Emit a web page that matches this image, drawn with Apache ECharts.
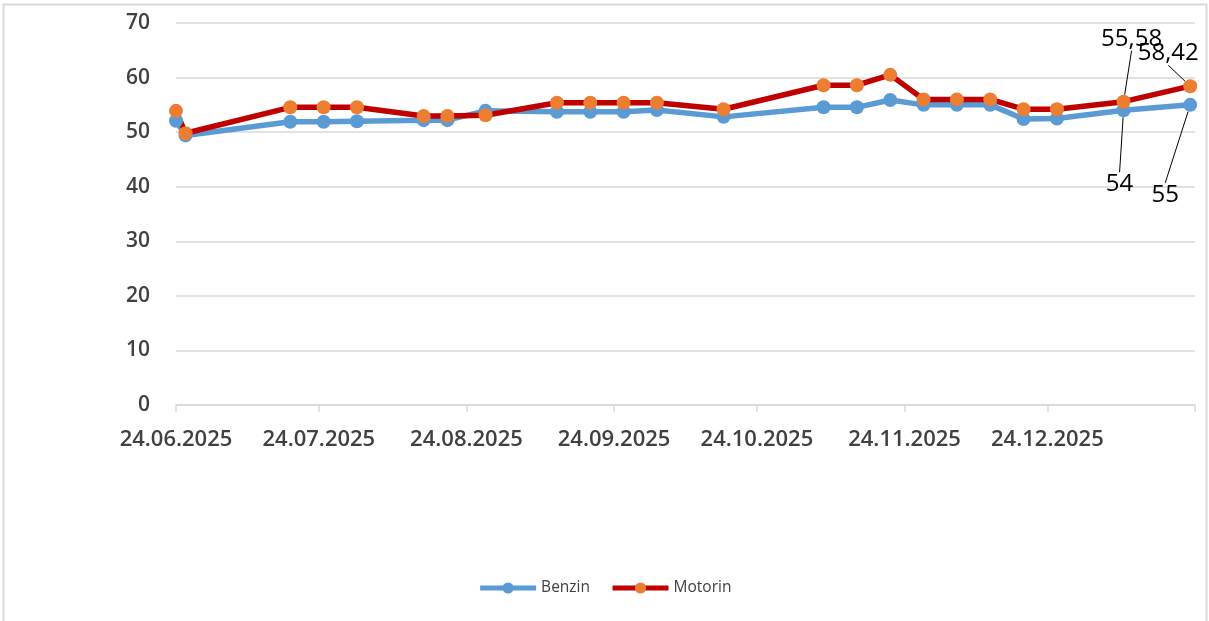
<!DOCTYPE html>
<html>
<head>
<meta charset="utf-8">
<script src="https://cdn.jsdelivr.net/npm/echarts@6/dist/echarts.min.js"></script>
<style>
html,body{margin:0;padding:0;background:#fff;}
#chart{width:1209px;height:621px;}
</style>
</head>
<body>
<div id="chart"></div>
<script>
var dates = ['2025-06-24','2025-06-26','2025-07-18','2025-07-25','2025-08-01','2025-08-15','2025-08-20','2025-08-28','2025-09-12','2025-09-19','2025-09-26','2025-10-03','2025-10-17','2025-11-07','2025-11-14','2025-11-21','2025-11-28','2025-12-05','2025-12-12','2025-12-19','2025-12-26','2026-01-09','2026-01-23'];
var benzin = [52.1, 49.4, 51.9, 51.9, 52.0, 52.2, 52.2, 53.9, 53.75, 53.75, 53.75, 54.05, 52.8, 54.55, 54.55, 55.9, 55.0, 55.0, 55.0, 52.4, 52.5, 54, 55];
var motorin = [53.9, 49.8, 54.55, 54.55, 54.55, 52.95, 52.95, 53.1, 55.4, 55.4, 55.4, 55.4, 54.2, 58.6, 58.6, 60.5, 56.0, 56.0, 56.0, 54.2, 54.2, 55.58, 58.42];
var tickDates = ['2025-06-24','2025-07-24','2025-08-24','2025-09-24','2025-10-24','2025-11-24','2025-12-24','2026-01-24'];
var labelDates = ['2025-06-24','2025-07-24','2025-08-24','2025-09-24','2025-10-24','2025-11-24','2025-12-24'];
var axisMin = '2025-06-24', axisMax = '2026-01-24';
var yTicks = [0, 10, 20, 30, 40, 50, 60, 70];

function ts(s){ return new Date(s + 'T00:00:00').getTime(); }
function fmtDate(v){
  var d = new Date(v);
  var dd = ('0' + d.getDate()).slice(-2), mm = ('0' + (d.getMonth()+1)).slice(-2);
  return dd + '.' + mm + '.' + d.getFullYear();
}
function fmtNum(v){ return String(v).replace('.', ','); }

var labeled = {21: true, 22: true};
function mkData(vals){
  return vals.map(function(v, i){
    var item = { value: [ts(dates[i]), v] };
    if (labeled[i]) item.label = { show: true };
    return item;
  });
}

var FONT = "'Open Sans', 'Noto Sans', sans-serif";
var chart = echarts.init(document.getElementById('chart'), null, {renderer: 'canvas'});
var option = {
  animation: false,
  backgroundColor: '#fff',
  textStyle: { fontFamily: FONT },
  graphic: [{
    type: 'rect', silent: true, z: -1,
    shape: { x: 3.5, y: 4.5, width: 1203, height: 700 },
    style: { fill: 'none', stroke: '#d9d9d9', lineWidth: 2 }
  }],
  grid: { left: 176, right: 14, top: 23, bottom: 216, containLabel: false },
  legend: {
    bottom: 20, left: 'center',
    itemWidth: 56, itemHeight: 14, itemGap: 20,
    lineStyle: { width: 5 },
    textStyle: { fontSize: 15.5, color: '#404040', fontFamily: FONT },
    data: ['Benzin', 'Motorin']
  },
  xAxis: {
    type: 'value',
    min: ts(axisMin), max: ts(axisMax),
    axisLine: { show: true, lineStyle: { color: '#d9d9d9', width: 1.5 } },
    axisTick: { show: true, length: 7, lineStyle: { color: '#d9d9d9', width: 1.5 }, customValues: tickDates.map(ts) },
    axisLabel: {
      customValues: labelDates.map(ts),
      formatter: function(v){ return fmtDate(v); },
      fontSize: 22, fontWeight: 600, color: '#404040', margin: 24, fontFamily: FONT
    },
    splitLine: { show: false }
  },
  yAxis: {
    type: 'value', min: yTicks[0], max: yTicks[yTicks.length-1], interval: 10,
    axisLine: { show: false }, axisTick: { show: false },
    axisLabel: { fontSize: 21, fontWeight: 600, color: '#404040', margin: 26, fontFamily: FONT },
    splitLine: { lineStyle: { color: '#d9d9d9', width: 1.5 } }
  },
  series: [
    {
      name: 'Benzin', type: 'line', data: mkData(benzin),
      symbol: 'circle', symbolSize: 14,
      lineStyle: { color: '#5B9BD5', width: 5.5 },
      itemStyle: { color: '#5B9BD5' },
      label: { show: false, position: 'inside', fontSize: 24, color: '#000', fontFamily: FONT,
        formatter: function(p){ return fmtNum(p.value[1]); } },
      labelLine: { show: true, lineStyle: { color: '#000', width: 1 } },
      labelLayout: function(p){
        if (p.dataIndex === 21) return { dx: -4, dy: 74 };
        if (p.dataIndex === 22) return { dx: -25, dy: 90 };
        return {};
      }
    },
    {
      name: 'Motorin', type: 'line', data: mkData(motorin),
      symbol: 'circle', symbolSize: 14,
      lineStyle: { color: '#C00000', width: 5.5 },
      itemStyle: { color: '#ED7D31' },
      label: { show: false, position: 'inside', fontSize: 24, color: '#000', fontFamily: FONT,
        formatter: function(p){ return fmtNum(p.value[1]); } },
      labelLine: { show: true, lineStyle: { color: '#000', width: 1 } },
      labelLayout: function(p){
        if (p.dataIndex === 21) return { dx: 8, dy: -63 };
        if (p.dataIndex === 22) return { dx: -22, dy: -33 };
        return {};
      }
    }
  ]
};
chart.setOption(option);
</script>
</body>
</html>
